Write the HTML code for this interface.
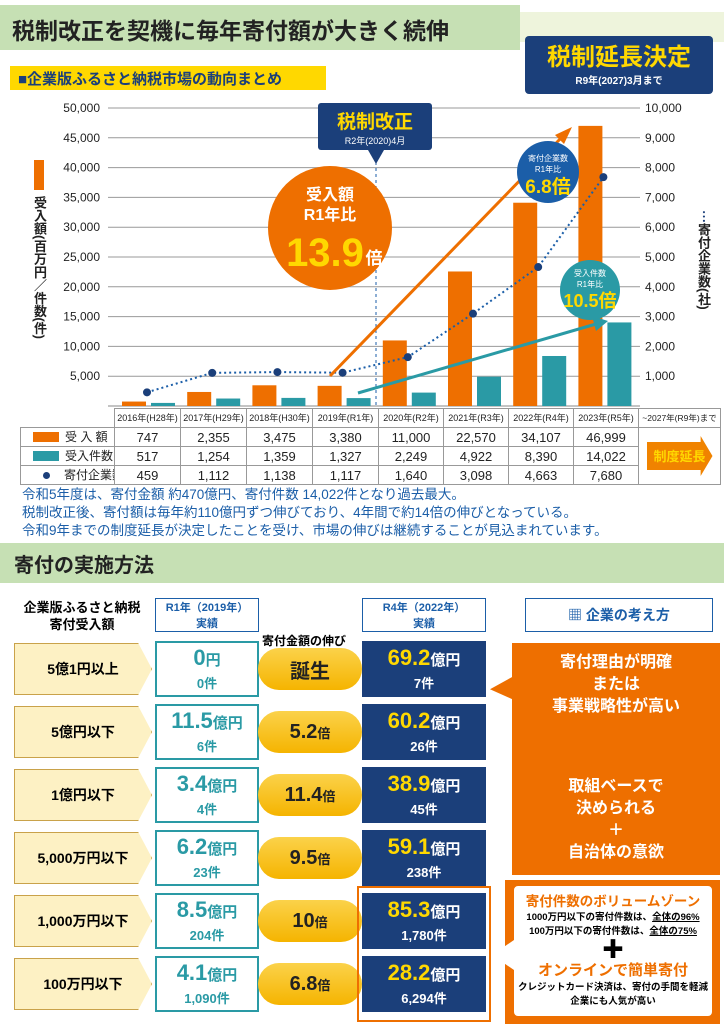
<!DOCTYPE html>
<html><head><meta charset="utf-8">
<style>
*{margin:0;padding:0;box-sizing:border-box}
body{width:724px;height:1024px;overflow:hidden;background:#fff;font-family:"Liberation Sans","Noto Sans CJK JP",sans-serif;position:relative}
.a{position:absolute}
.c{display:flex;align-items:center;justify-content:center;flex-direction:column;text-align:center}
table{border-collapse:collapse;table-layout:fixed}
td{border:1px solid #999;font-size:13px;text-align:center;color:#222;height:19px;white-space:nowrap;overflow:hidden;padding:0;line-height:17px}
.lab{background:#fdf1c4;border:1.5px solid #c9a24a;font-weight:bold;font-size:14px;clip-path:polygon(0 0,90% 0,100% 50%,90% 100%,0 100%)}
.r1{background:#fff;border:2px solid #2a9aa5;color:#2a9aa5;font-weight:bold}
.ov{background:linear-gradient(#fbd24a,#f5b400);border-radius:28px;font-weight:bold;font-size:20px;color:#222}
.r4{background:#1b3f7a;color:#fff;font-weight:bold}
.big{font-size:22px;line-height:24px}
.sm{font-size:13px}
</style></head><body>
<div class="a" style="left:0;top:5px;width:520px;height:45px;background:#c6e0b4"></div>
<div class="a" style="left:520px;top:12px;width:204px;height:30px;background:#eef4dc"></div>
<div class="a" style="left:12px;top:12px;font-size:23px;font-weight:bold;color:#222">税制改正を契機に毎年寄付額が大きく続伸</div>
<div class="a c" style="left:525px;top:36px;width:188px;height:58px;background:#1b3f7a;border-radius:4px;color:#ffd800;font-weight:bold"><div style="font-size:24px;line-height:28px">税制延長決定</div><div style="font-size:10px;color:#fff">R9年(2027)3月まで</div></div>
<div class="a" style="left:10px;top:66px;width:316px;height:24px;background:#ffd800;font-size:15px;font-weight:bold;color:#1b3f7a;padding:2px 8px">■企業版ふるさと納税市場の動向まとめ</div>

<svg class="a" style="left:0;top:0" width="724" height="420" id="chart"></svg>

<div class="a" style="left:34px;top:160px;width:10px;height:30px;background:#ee6f00"></div>
<div class="a" style="left:30px;top:196px;writing-mode:vertical-rl;font-size:13px;font-weight:bold;color:#222">受入額(百万円／件数(件)</div>
<div class="a" style="left:694px;top:210px;writing-mode:vertical-rl;font-size:13px;font-weight:bold;color:#222"><span style="color:#1b3f7a">⋯</span>寄付企業数(社)</div>

<table class="a" style="left:20px;top:408px;width:700px">
<colgroup><col style="width:94px"><col style="width:66px"><col style="width:66px"><col style="width:66px"><col style="width:66px"><col style="width:65px"><col style="width:65px"><col style="width:65px"><col style="width:65px"><col style="width:82px"></colgroup>
<tr><td style="border:none;border-bottom:1px solid #999"></td><td style="font-size:9px;height:16px">2016年(H28年)</td><td style="font-size:9px">2017年(H29年)</td><td style="font-size:9px">2018年(H30年)</td><td style="font-size:9px">2019年(R1年)</td><td style="font-size:9px">2020年(R2年)</td><td style="font-size:9px">2021年(R3年)</td><td style="font-size:9px">2022年(R4年)</td><td style="font-size:9px">2023年(R5年)</td><td style="font-size:8.5px">~2027年(R9年)まで</td></tr>
<tr><td style="text-align:left;font-size:12px"><span style="display:inline-block;width:26px;height:10px;background:#ee6f00;margin:0 6px 0 12px;vertical-align:middle"></span>受 入 額</td><td>747</td><td>2,355</td><td>3,475</td><td>3,380</td><td>11,000</td><td>22,570</td><td>34,107</td><td>46,999</td><td rowspan="3"><div class="c" style="margin:auto;width:66px;height:40px;background:#f08300;color:#ffd800;font-weight:bold;font-size:13px;clip-path:polygon(0 15%,82% 15%,82% 0,100% 50%,82% 100%,82% 85%,0 85%)">制度延長</div></td></tr>
<tr><td style="text-align:left;font-size:12px"><span style="display:inline-block;width:26px;height:10px;background:#2a9aa5;margin:0 6px 0 12px;vertical-align:middle"></span>受入件数</td><td>517</td><td>1,254</td><td>1,359</td><td>1,327</td><td>2,249</td><td>4,922</td><td>8,390</td><td>14,022</td></tr>
<tr><td style="text-align:left;font-size:12px"><span style="display:inline-block;width:7px;height:7px;border-radius:50%;background:#1b3f7a;margin:0 14px 0 22px;vertical-align:middle"></span>寄付企業数</td><td>459</td><td>1,112</td><td>1,138</td><td>1,117</td><td>1,640</td><td>3,098</td><td>4,663</td><td>7,680</td></tr>
</table>

<div class="a" style="left:22px;top:486px;font-size:13.5px;line-height:18px;color:#1b5ea8">令和5年度は、寄付金額 約470億円、寄付件数 14,022件となり過去最大。<br>税制改正後、寄付額は毎年約110億円ずつ伸びており、4年間で約14倍の伸びとなっている。<br>令和9年までの制度延長が決定したことを受け、市場の伸びは継続することが見込まれています。</div>

<div class="a" style="left:0;top:543px;width:724px;height:40px;background:#c6e0b4;font-size:20px;font-weight:bold;padding:6px 14px;color:#222">寄付の実施方法</div>

<div class="a c" style="left:12px;top:598px;width:140px;height:36px;font-size:13px;font-weight:bold;line-height:17px">企業版ふるさと納税<br>寄付受入額</div>
<div class="a c" style="left:155px;top:598px;width:104px;height:34px;border:1.5px solid #1b5ea8;color:#1b5ea8;font-size:11px;font-weight:bold">R1年（2019年）<br>実績</div>
<div class="a" style="left:262px;top:632px;font-size:12px;font-weight:bold">寄付金額の伸び</div>
<div class="a c" style="left:362px;top:598px;width:124px;height:34px;border:1.5px solid #1b5ea8;color:#1b5ea8;font-size:11px;font-weight:bold">R4年（2022年）<br>実績</div>
<div class="a c" style="left:525px;top:598px;width:188px;height:34px;border:1.5px solid #1b5ea8;color:#1b5ea8;font-size:14px;font-weight:bold;flex-direction:row">▦&nbsp;企業の考え方</div>

<div id="rows"></div>

<div class="a" style="left:357px;top:886px;width:134px;height:136px;border:2px solid #ee6f00"></div>
<div class="a" style="left:512px;top:643px;width:208px;height:232px;background:#ee6f00"></div>
<div class="a" style="left:490px;top:676px;width:24px;height:24px;background:#ee6f00;clip-path:polygon(100% 0,0 55%,100% 100%)"></div>
<div class="a c" style="left:512px;top:652px;width:208px;font-size:16px;font-weight:bold;color:#fff;line-height:22px">寄付理由が明確<br>または<br>事業戦略性が高い</div>
<div class="a c" style="left:512px;top:776px;width:208px;font-size:16px;font-weight:bold;color:#fff;line-height:22px">取組ベースで<br>決められる<br>＋<br>自治体の意欲</div>
<div class="a" style="left:505px;top:880px;width:215px;height:144px;background:#ee6f00"></div>
<div class="a c" style="left:512px;top:884px;width:202px;height:134px;background:#fff;border:2px solid #ee6f00;border-radius:6px;font-weight:bold;line-height:14px">
<div style="color:#ee6f00;font-size:13.5px;line-height:18px">寄付件数のボリュームゾーン</div>
<div style="font-size:9.5px">1000万円以下の寄付件数は、<u>全体の96%</u></div>
<div style="font-size:9.5px">100万円以下の寄付件数は、<u>全体の75%</u></div>
<div style="font-size:22px;line-height:22px">✚</div>
<div style="color:#ee6f00;font-size:15px;line-height:20px">オンラインで簡単寄付</div>
<div style="font-size:9.5px">クレジットカード決済は、寄付の手間を軽減<br>企業にも人気が高い</div></div>
<div class="a" style="left:492px;top:940px;width:22px;height:30px;background:#fff;clip-path:polygon(100% 0,0 50%,100% 100%)"></div>

<script>
const years=["2016","2017","2018","2019","2020","2021","2022","2023"];
const amount=[747,2355,3475,3380,11000,22570,34107,46999];
const counts=[517,1254,1359,1327,2249,4922,8390,14022];
const companies=[459,1112,1138,1117,1640,3098,4663,7680];
const leftTicks=[5000,10000,15000,20000,25000,30000,35000,40000,45000,50000];
const rightTicks=[1000,2000,3000,4000,5000,6000,7000,8000,9000,10000];
const NS="http://www.w3.org/2000/svg";
const svg=document.getElementById('chart');
const y0=406,yTop=108,x0=114,colW=65.2;
const yL=v=>y0-(v/50000)*(y0-yTop);
const yR=v=>y0-(v/10000)*(y0-yTop);
const xc=i=>x0+i*colW;
function el(t,a,p){const e=document.createElementNS(NS,t);for(const k in a)e.setAttribute(k,a[k]);(p||svg).appendChild(e);return e;}
leftTicks.forEach((v,i)=>{
  const l=el('line',{x1:108,x2:640,y1:yL(v),y2:yL(v),stroke:'#999','stroke-width':1});
  
  
  const t=el('text',{x:100,y:yL(v)+4,'text-anchor':'end','font-size':12,fill:'#222'});t.textContent=v.toLocaleString('en-US');
  
  
});
rightTicks.forEach(v=>{
  const t=el('text',{x:645,y:yR(v)+4,'font-size':12,fill:'#222'});t.textContent=v.toLocaleString('en-US');
  
  
});
el('line',{x1:108,x2:640,y1:y0,y2:y0,stroke:'#888'});
years.forEach((y,i)=>{
  const b=el('rect',{x:xc(i)+8,y:yL(amount[i]),width:24,height:y0-yL(amount[i]),fill:'#ee6f00'});
  
  
  const c=el('rect',{x:xc(i)+37,y:yL(counts[i]),width:24,height:y0-yL(counts[i]),fill:'#2a9aa5'});
  
  
});
const pts=companies.map((v,i)=>(xc(i)+33)+','+yR(v)).join(' ');
const pl=el('polyline',{points:pts,fill:'none',stroke:'#1b5ea8','stroke-width':2,'stroke-dasharray':'2,3'});


companies.forEach((v,i)=>{const d=el('circle',{cx:xc(i)+33,cy:yR(v),r:4,fill:'#1b3f7a'});

});
el('line',{x1:376,x2:376,y1:150,y2:y0,stroke:'#1b5ea8','stroke-dasharray':'3,3'});
el('line',{x1:330,y1:376,x2:562,y2:137,stroke:'#ee6f00','stroke-width':3});
el('polygon',{points:'572,127 555,135 564,144',fill:'#ee6f00'});
el('line',{x1:358,y1:393,x2:596,y2:324,stroke:'#2a9aa5','stroke-width':3});
el('polygon',{points:'608,321 592,316 596,331',fill:'#2a9aa5'});
el('rect',{x:318,y:103,width:114,height:47,rx:3,fill:'#1b3f7a'});
el('polygon',{points:'368,150 384,150 376,164',fill:'#1b3f7a'});
let t=el('text',{x:375,y:128,'text-anchor':'middle','font-size':19,'font-weight':'bold',fill:'#ffd800'});t.textContent='税制改正';
t=el('text',{x:375,y:144,'text-anchor':'middle','font-size':9,fill:'#fff'});t.textContent='R2年(2020)4月';
el('circle',{cx:330,cy:228,r:62,fill:'#ee6f00'});
t=el('text',{x:330,y:200,'text-anchor':'middle','font-size':16,'font-weight':'bold',fill:'#fff'});t.textContent='受入額';
t=el('text',{x:330,y:220,'text-anchor':'middle','font-size':16,'font-weight':'bold',fill:'#fff'});t.textContent='R1年比';
t=el('text',{x:325,y:266,'text-anchor':'middle','font-size':40,'font-weight':'bold',fill:'#ffd800'});t.textContent='13.9';
t=el('text',{x:374,y:264,'text-anchor':'middle','font-size':17,'font-weight':'bold',fill:'#fff'});t.textContent='倍';
el('circle',{cx:548,cy:172,r:31,fill:'#1b5ea8'});
t=el('text',{x:548,y:161,'text-anchor':'middle','font-size':8,fill:'#fff'});t.textContent='寄付企業数';
t=el('text',{x:548,y:172,'text-anchor':'middle','font-size':8,fill:'#fff'});t.textContent='R1年比';
t=el('text',{x:548,y:193,'text-anchor':'middle','font-size':19,'font-weight':'bold',fill:'#ffd800'});t.textContent='6.8倍';
el('circle',{cx:590,cy:290,r:30,fill:'#2a9aa5'});
t=el('text',{x:590,y:276,'text-anchor':'middle','font-size':8,fill:'#fff'});t.textContent='受入件数';
t=el('text',{x:590,y:287,'text-anchor':'middle','font-size':8,fill:'#fff'});t.textContent='R1年比';
t=el('text',{x:590,y:307,'text-anchor':'middle','font-size':18,'font-weight':'bold',fill:'#ffd800'});t.textContent='10.5倍';

const rowLabels=["5億1円以上","5億円以下","1億円以下","5,000万円以下","1,000万円以下","100万円以下"];
const r1Amt=["0","11.5","3.4","6.2","8.5","4.1"];
const r1Unit=["円","億円","億円","億円","億円","億円"];
const r1Cnt=["0件","6件","4件","23件","204件","1,090件"];
const growth=["誕生","5.2","11.4","9.5","10","6.8"];
const r4Amt=["69.2","60.2","38.9","59.1","85.3","28.2"];
const r4Cnt=["7件","26件","45件","238件","1,780件","6,294件"];
const rows=document.getElementById('rows');
rowLabels.forEach((l,i)=>{
  const top=641+i*63;
  rows.insertAdjacentHTML('beforeend',
  `<div class="a c lab" style="left:14px;top:${top+2}px;width:138px;height:52px">${l}</div>`+
  `<div class="a c r1" style="left:155px;top:${top}px;width:104px;height:56px"><div class="big">${r1Amt[i]}<span style="font-size:15px">${r1Unit[i]}</span></div><div class="sm">${r1Cnt[i]}</div></div>`+
  `<div class="a c ov" style="left:258px;top:${top+7}px;width:104px;height:42px;flex-direction:row">${growth[i]}${i?'<span style="font-size:13px">倍</span>':''}</div>`+
  `<div class="a c r4" style="left:362px;top:${top}px;width:124px;height:56px"><div class="big"><span style="color:#ffd800">${r4Amt[i]}</span><span style="font-size:15px">億円</span></div><div class="sm">${r4Cnt[i]}</div></div>`);
});
rows.querySelectorAll('.lab').forEach(e=>{});
rows.querySelectorAll('.r1').forEach(e=>{});
rows.querySelectorAll('.ov').forEach(e=>{});
rows.querySelectorAll('.r4').forEach(e=>{});
</script>
</body></html>
